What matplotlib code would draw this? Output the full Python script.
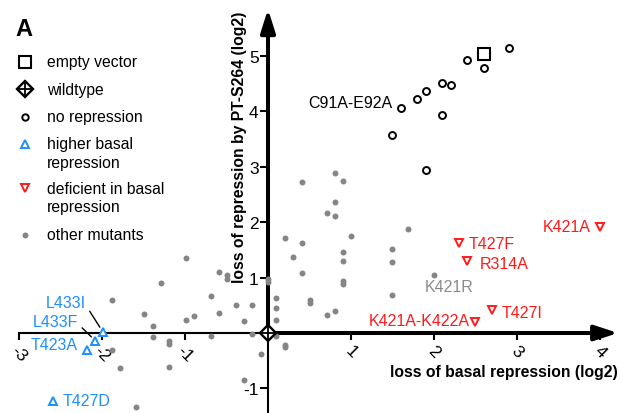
import matplotlib.pyplot as plt

plt.rcParams['font.family'] = ['Liberation Sans', 'DejaVu Sans']
plt.rcParams['axes.unicode_minus'] = False

# ---------------- data (log2) ----------------
empty_x = [2.60]
empty_y = [5.04]

wt_x = [0.0]
wt_y = [0.0]

norep_x = [2.90, 2.40, 2.60, 2.10, 2.20, 1.90, 1.80, 1.60, 2.10, 1.50, 1.90]
norep_y = [5.14, 4.92, 4.78, 4.51, 4.48, 4.36, 4.22, 4.07, 3.93, 3.58, 2.95]
norep_names = ["", "", "", "", "", "", "", "C91A-E92A", "", "", ""]

higher_x = [-1.99, -2.08, -2.18, -2.59]
higher_y = [0.02, -0.14, -0.31, -1.22]
higher_names = ["L433I", "L433F", "T423A", "T427D"]

deficient_x = [4.00, 2.30, 2.40, 2.70, 2.49]
deficient_y = [1.92, 1.62, 1.30, 0.42, 0.20]
deficient_names = ["K421A", "T427F", "R314A", "T427I", "K421A-K422A"]

other_x = [-1.88, -1.49, -1.39, -1.39, -1.29, -1.19, -1.19, -1.19, -1.88, -1.78,
           -1.59, -0.99, -0.99, -0.89, -0.69, -0.69, -0.59, -0.59, -0.49, -0.49,
           -0.39, -0.29, -0.29, -0.19, -0.19, -0.09,
           0.00, 0.00, 0.10, 0.10, 0.10, 0.10, 0.20, 0.20,
           0.20, 0.30, 0.41, 0.41, 0.41, 0.51, 0.51, 0.81, 0.90, 0.81,
           0.71, 0.81, 1.00, 0.90, 0.90, 0.90, 0.90, 0.71, 0.81,
           1.50, 1.50, 1.50, 1.69, 2.00]
other_y = [0.59, 0.34, 0.13, -0.08, 0.91, -0.15, -0.20, -0.62, -0.30, -0.64,
           -1.33, 1.35, 0.23, 0.30, 0.66, -0.05, 1.10, 0.36, 1.05, 0.98,
           0.51, 0.21, -0.84, 0.51, -0.01, -0.38,
           0.97, 0.92, 0.64, 0.45, 0.24, -0.05, -0.21, -0.25,
           1.71, 1.37, 1.62, 1.08, 2.73, 0.60, 0.54, 2.89, 2.74, 2.36,
           2.16, 2.12, 1.75, 1.46, 1.30, 0.93, 0.89, 0.33, 0.39,
           1.52, 1.28, 0.69, 1.88, 1.05]
other_names = [""] * (len(other_x) - 1) + ["K421R"]

xticks = [-3, -2, -1, 1, 2, 3, 4]
yticks = [-1, 1, 2, 3, 4, 5]

legend_labels = ["empty vector", "wildtype", "no repression",
                 "higher basal\nrepression", "deficient in basal\nrepression",
                 "other mutants"]

# ---------------- styles ----------------
BLUE = "#1e8fff"
RED = "#ff1a1a"
GRAY = "#858585"

# label offsets in pixels (dx, dy with y downwards, ha)
label_pos = {
    "C91A-E92A": (-8, -5, "right"),
    "K421A": (-9, 0, "right"),
    "T427F": (10, 0, "left"),
    "R314A": (13, 3, "left"),
    "T427I": (10, 2.6, "left"),
    "K421A-K422A": (-5, -1, "right"),
    "K421R": (15, 11.6, "center"),
    "L433I": (-17, -29, "right"),
    "L433F": (-17.5, -19.3, "right"),
    "T423A": (-9.5, -6, "right"),
    "T427D": (10, 0, "left"),
}
leader = {"L433I", "L433F"}

W, H = 620, 414
X0, XU = 268, 83.0     # pixel of x=0, pixels per unit
Y0, YU = 334, 55.4     # pixel of y=0 (from top), pixels per unit

MK_WT = dict(marker="D", ms=8.4, mfc="white", mec="black", mew=1.7)
MK_WT_CROSS = dict(marker="+", ms=11.8, mec="black", mew=1.3)


def dx(px):
    return (px - X0) / XU


def dy(py):
    return (Y0 - py) / YU


fig = plt.figure(figsize=(W / 100, H / 100), dpi=100)
ax = fig.add_axes([0, 0, 1, 1])
ax.set_xlim(dx(0), dx(W))
ax.set_ylim(dy(H), dy(0))

# axes through the origin: thin on the negative side, thick arrows on the positive
for s in ("top", "right"):
    ax.spines[s].set_visible(False)
for s in ("left", "bottom"):
    ax.spines[s].set_position(("data", 0))
    ax.spines[s].set_linewidth(1.5)
ax.spines["bottom"].set_bounds(-3, 0)
ax.spines["left"].set_bounds(dy(H), 0)

ax.annotate("", xy=(dx(618), 0), xytext=(0, 0), zorder=2,
            arrowprops=dict(arrowstyle="-|>,head_length=14,head_width=4.6",
                            mutation_scale=1, lw=2.9, color="black",
                            shrinkA=0, shrinkB=0))
ax.annotate("", xy=(0, dy(10)), xytext=(0, 0), zorder=2,
            arrowprops=dict(arrowstyle="-|>,head_length=14,head_width=4.4",
                            mutation_scale=1, lw=2.9, color="black",
                            shrinkA=0, shrinkB=0))

ax.set_xticks(xticks)
ax.set_xticklabels([str(t) for t in xticks])
ax.set_yticks(yticks)
ax.set_yticklabels([str(t) for t in yticks])
ax.tick_params(axis="x", direction="out", length=5, width=1.5, pad=2,
               labelsize=12.5, labelrotation=-45)
ax.tick_params(axis="y", direction="out", length=5.8, width=1.5, pad=1,
               labelsize=12.5)

ax.text(dx(618), dy(373), "loss of basal repression (log2)", ha="right",
        va="center", fontsize=11.3, fontweight="bold")
ax.text(dx(240), dy(147), "loss of repression by PT-S264 (log2)", rotation=90,
        ha="center", va="center", fontsize=11.3, fontweight="bold")

# ---------------- points ----------------
ax.plot(other_x, other_y, "o", ms=4.3, color=GRAY, mew=0, zorder=4)
ax.plot(norep_x, norep_y, "o", ms=5, mfc="white", mec="black", mew=1.4, zorder=4)
ax.plot(empty_x, empty_y, "s", ms=8.5, mfc="white", mec="black", mew=1.5, zorder=4)
ax.plot(higher_x, higher_y, "^", ms=5.8, mfc="white", mec=BLUE, mew=1.4, zorder=5)
ax.plot(deficient_x, deficient_y, "v", ms=5.8, mfc="white", mec=RED, mew=1.4, zorder=5)
ax.plot(wt_x, wt_y, ls="none", zorder=6, **MK_WT)
ax.plot(wt_x, wt_y, ls="none", zorder=7, **MK_WT_CROSS)


def label_points(xs, ys, names, color):
    for x, y, name in zip(xs, ys, names):
        if not name:
            continue
        ox, oy, ha = label_pos[name]
        props = None
        if name in leader:
            props = dict(arrowstyle="-", lw=1, color="black", relpos=(1.0, 0.35),
                         shrinkA=1.5, shrinkB=4)
        ax.annotate(name, (x, y), xytext=(ox * 0.72, -oy * 0.72),
                    textcoords="offset points", ha=ha, va="center",
                    fontsize=11.5, color=color, arrowprops=props)


label_points(norep_x, norep_y, norep_names, "black")
label_points(higher_x, higher_y, higher_names, BLUE)
label_points(deficient_x, deficient_y, deficient_names, RED)
label_points(other_x, other_y, other_names, "#8c8c8c")

# ---------------- legend (drawn in figure pixels) ----------------
fig.text(15 / W, 1 - 30 / H, "A", fontsize=17, fontweight="bold", va="center")

leg_rows = [63, 90, 118, 145, 189, 236]
leg_markers = [
    dict(marker="s", ms=9, mfc="white", mec="black", mew=1.5),
    MK_WT,
    dict(marker="o", ms=4.6, mfc="white", mec="black", mew=1.4),
    dict(marker="^", ms=5.5, mfc="white", mec=BLUE, mew=1.4),
    dict(marker="v", ms=5.5, mfc="white", mec=RED, mew=1.4),
    dict(marker="o", ms=4.3, color=GRAY, mew=0),
]
for py, lab, mk in zip(leg_rows, legend_labels, leg_markers):
    ax.plot([25 / W], [1 - py / H], ls="none", transform=fig.transFigure,
            clip_on=False, zorder=5, **mk)
    if mk is MK_WT:
        ax.plot([25 / W], [1 - py / H], ls="none", transform=fig.transFigure,
                clip_on=False, zorder=6, **MK_WT_CROSS)
    for i, line in enumerate(lab.split("\n")):
        fig.text(47 / W, 1 - (py + 19 * i) / H, line, fontsize=11.3, va="center")

fig.savefig("out.png", dpi=100)
